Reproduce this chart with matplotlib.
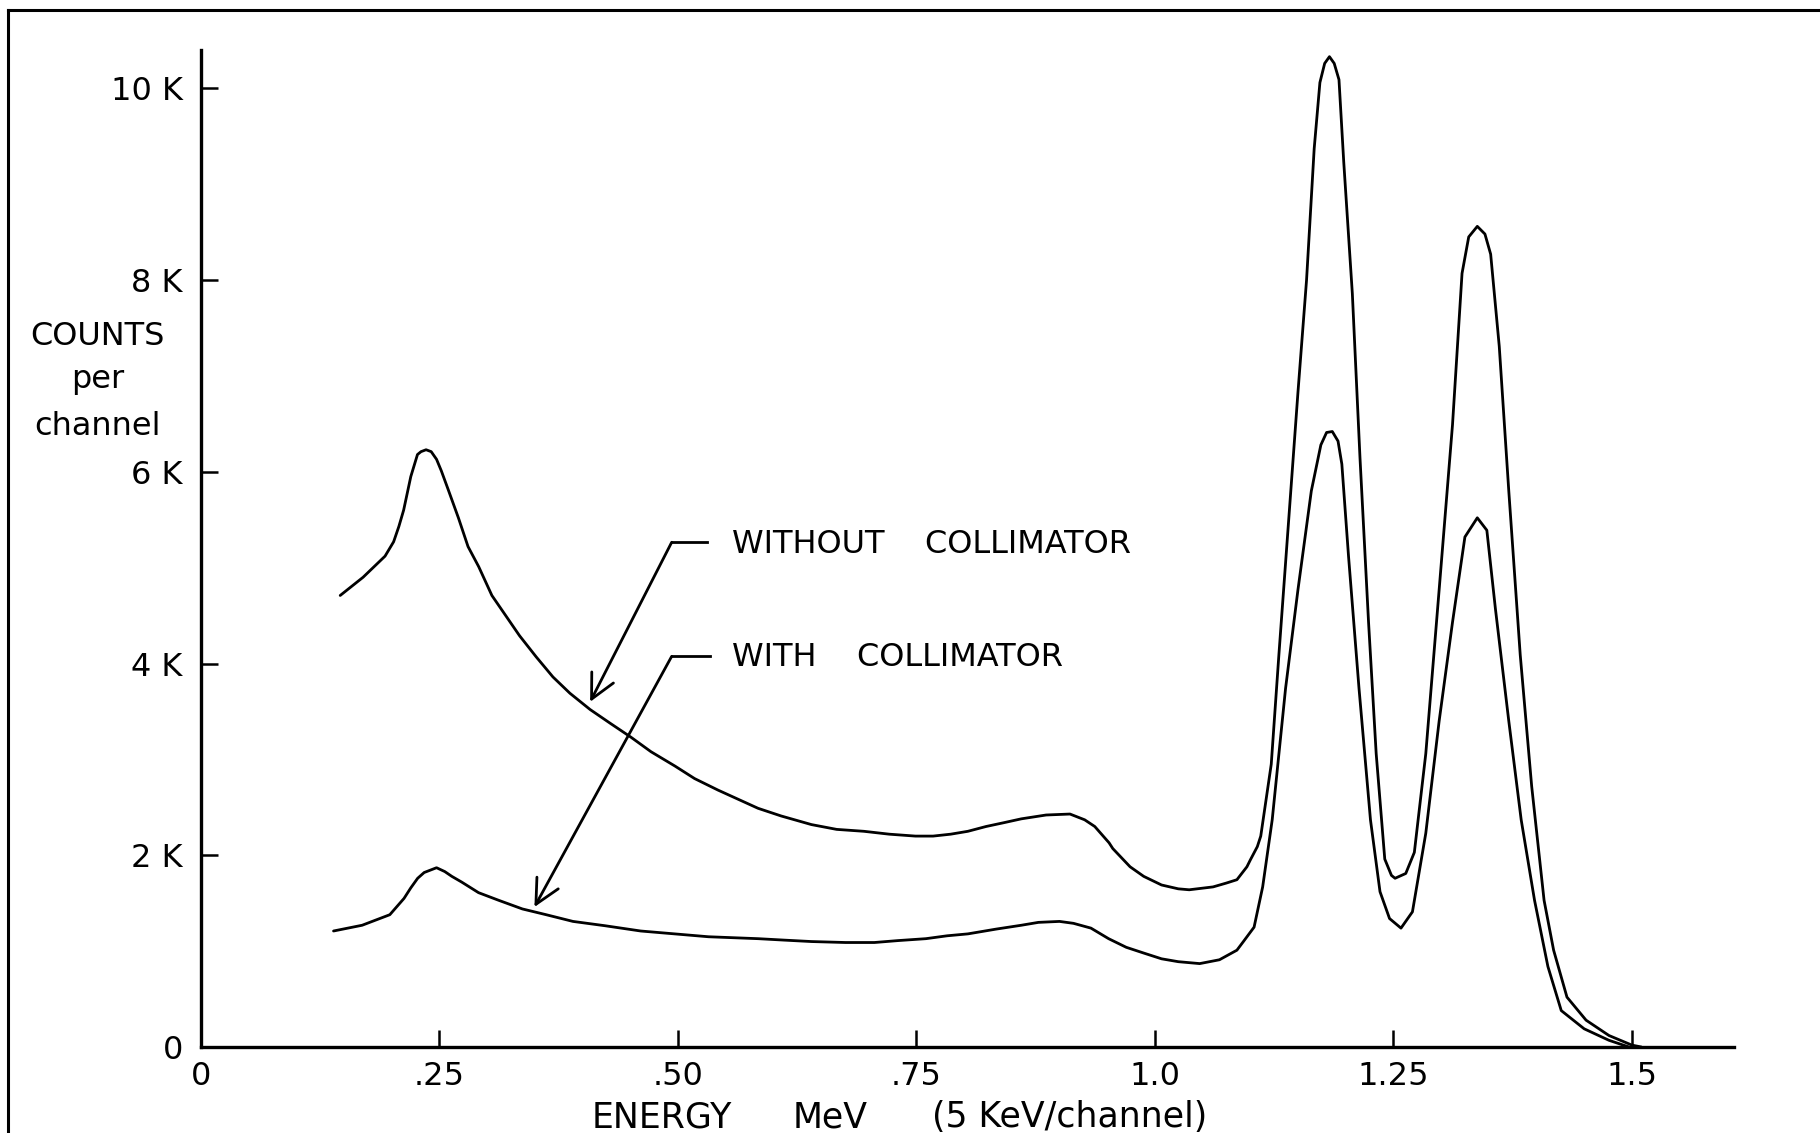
import matplotlib
matplotlib.use('Agg')
import matplotlib.pyplot as plt
from matplotlib.lines import Line2D

# ---- data (energy in MeV, counts per channel) ----
energy_without = [0.146, 0.170, 0.193, 0.202, 0.2075, 0.2125, 0.220, 0.227, 0.2307, 0.236,
                  0.2414, 0.247, 0.252, 0.259, 0.2699, 0.280, 0.2912, 0.305, 0.3195, 0.334,
                  0.3514, 0.369, 0.3868, 0.408, 0.4293, 0.451, 0.4718, 0.497, 0.5175, 0.542,
                  0.584, 0.6082, 0.640, 0.6664, 0.695, 0.7215, 0.749, 0.7675, 0.786, 0.804,
                  0.823, 0.8418, 0.860, 0.886, 0.911, 0.9264, 0.937, 0.952, 0.9559, 0.974,
                  0.9883, 1.007, 1.0245, 1.036, 1.061, 1.0749, 1.086, 1.0965, 1.100, 1.1074,
                  1.111, 1.122, 1.130, 1.140, 1.150, 1.159, 1.167, 1.173, 1.178, 1.183,
                  1.188, 1.193, 1.198, 1.207, 1.215, 1.224, 1.232, 1.241, 1.248, 1.2518,
                  1.263, 1.272, 1.284, 1.298, 1.312, 1.322, 1.329, 1.338, 1.346, 1.352,
                  1.361, 1.371, 1.383, 1.395, 1.408, 1.418, 1.432, 1.452, 1.476, 1.500,
                  1.510]
counts_without = [4710, 4900, 5120, 5270, 5430, 5600, 5950, 6180, 6210, 6230,
                  6210, 6130, 6010, 5820, 5520, 5220, 5010, 4710, 4500, 4290,
                  4070, 3860, 3690, 3520, 3375, 3230, 3080, 2930, 2800, 2680,
                  2490, 2410, 2320, 2270, 2250, 2220, 2200, 2200, 2220, 2250,
                  2300, 2340, 2380, 2420, 2430, 2370, 2300, 2130, 2070, 1880,
                  1780, 1690, 1650, 1640, 1670, 1710, 1745, 1880, 1950, 2090,
                  2200, 2950, 4090, 5460, 6830, 8000, 9370, 10060, 10260, 10330,
                  10260, 10090, 9230, 7860, 6150, 4430, 3060, 1960, 1790, 1760,
                  1810, 2030, 3060, 4770, 6490, 8070, 8450, 8560, 8480, 8270,
                  7310, 5800, 4090, 2720, 1530, 1010, 520, 280, 120, 20,
                  0]

energy_with = [0.139, 0.169, 0.198, 0.2129, 0.220, 0.2272, 0.234, 0.247, 0.2556, 0.263,
               0.2734, 0.291, 0.3122, 0.337, 0.3619, 0.390, 0.4236, 0.461, 0.4965, 0.532,
               0.584, 0.6113, 0.640, 0.6756, 0.706, 0.7307, 0.760, 0.7822, 0.804, 0.8337,
               0.860, 0.8779, 0.900, 0.9147, 0.933, 0.9515, 0.970, 0.9883, 1.007, 1.0245,
               1.047, 1.0677, 1.086, 1.0928, 1.104, 1.113, 1.123, 1.137, 1.150, 1.164,
               1.174, 1.180, 1.186, 1.192, 1.196, 1.203, 1.214, 1.226, 1.236, 1.246,
               1.258, 1.270, 1.284, 1.298, 1.312, 1.325, 1.338, 1.348, 1.357, 1.371,
               1.384, 1.398, 1.412, 1.426, 1.450, 1.476, 1.497]
counts_with = [1210, 1270, 1380, 1550, 1660, 1760, 1820, 1870, 1830, 1780,
               1720, 1610, 1530, 1440, 1380, 1310, 1265, 1210, 1180, 1150,
               1130, 1115, 1100, 1090, 1090, 1110, 1130, 1160, 1180, 1230,
               1270, 1300, 1310, 1290, 1240, 1130, 1040, 980, 920, 890,
               870, 910, 1010, 1100, 1250, 1670, 2370, 3740, 4770, 5800,
               6280, 6410, 6420, 6320, 6080, 5120, 3740, 2370, 1620, 1340,
               1240, 1410, 2230, 3400, 4430, 5320, 5520, 5390, 4570, 3400,
               2370, 1530, 840, 380, 190, 70, 0]

x_ticks = [0, 0.25, 0.5, 0.75, 1.0, 1.25, 1.5]
x_tick_labels = ['0', '.25', '.50', '.75', '1.0', '1.25', '1.5']
y_ticks = [0, 2000, 4000, 6000, 8000, 10000]
y_tick_labels = ['0', '2 K', '4 K', '6 K', '8 K', '10 K']

label_without = 'WITHOUT    COLLIMATOR'
label_with = 'WITH    COLLIMATOR'

plt.rcParams['font.family'] = ['DejaVu Sans']
FS = 23

fig = plt.figure(figsize=(18.2, 11.33), dpi=100)
fig.patch.set_facecolor('white')
ax = fig.add_axes([0.1104, 0.0759, 0.8423, 0.880])

ax.plot(energy_without, counts_without, color='black', lw=2.0,
        solid_joinstyle='round', solid_capstyle='round')
ax.plot(energy_with, counts_with, color='black', lw=2.0,
        solid_joinstyle='round', solid_capstyle='round')

ax.set_xlim(0, 1.607)
ax.set_ylim(0, 10400)
for s in ['top', 'right']:
    ax.spines[s].set_visible(False)
for s in ['left', 'bottom']:
    ax.spines[s].set_linewidth(2.4)
    ax.spines[s].set_color('black')

ax.set_xticks(x_ticks)
ax.set_xticklabels(x_tick_labels)
ax.set_yticks(y_ticks)
ax.set_yticklabels(y_tick_labels)
ax.tick_params(direction='in', length=12, width=1.8, labelsize=FS, colors='black')
ax.tick_params(axis='x', pad=10)
ax.tick_params(axis='y', pad=13)

# annotations with leader lines and arrows
ax.plot([0.4935, 0.530], [5265, 5265], color='black', lw=2.0)
ax.annotate('', xy=(0.408, 3600), xytext=(0.4935, 5265),
            arrowprops=dict(arrowstyle='->,head_length=0.7,head_width=0.35',
                            lw=2.0, color='black', mutation_scale=25,
                            shrinkA=0, shrinkB=0))
ax.text(0.5568, 5245, label_without, fontsize=FS, ha='left', va='center')

ax.plot([0.4935, 0.5337], [4075, 4075], color='black', lw=2.0)
ax.annotate('', xy=(0.3496, 1460), xytext=(0.4935, 4075),
            arrowprops=dict(arrowstyle='->,head_length=0.7,head_width=0.35',
                            lw=2.0, color='black', mutation_scale=25,
                            shrinkA=0, shrinkB=0))
ax.text(0.5568, 4067, label_with, fontsize=FS, ha='left', va='center')

# y-axis label (three centred lines)
fig.text(0.0538, 0.6955, 'COUNTS', fontsize=FS, ha='center', va='baseline')
fig.text(0.0538, 0.6575, 'per', fontsize=FS, ha='center', va='baseline')
fig.text(0.0538, 0.6161, 'channel', fontsize=FS, ha='center', va='baseline')

# x-axis label
XFS = 25
fig.text(0.3253, 0.0141, 'ENERGY', fontsize=XFS, ha='left', va='center')
fig.text(0.4357, 0.0141, 'MeV', fontsize=XFS, ha='left', va='center')
fig.text(0.5120, 0.0141, '(5 KeV/channel)', fontsize=XFS, ha='left', va='center')

# outer frame (left and top border of the drawing)
fig.add_artist(Line2D([0.0045, 0.0045], [0.0, 0.991], transform=fig.transFigure,
                      color='black', lw=2.2))
fig.add_artist(Line2D([0.0045, 1.0], [0.991, 0.991], transform=fig.transFigure,
                      color='black', lw=2.2))

fig.savefig('out.png', dpi=100, facecolor='white')
